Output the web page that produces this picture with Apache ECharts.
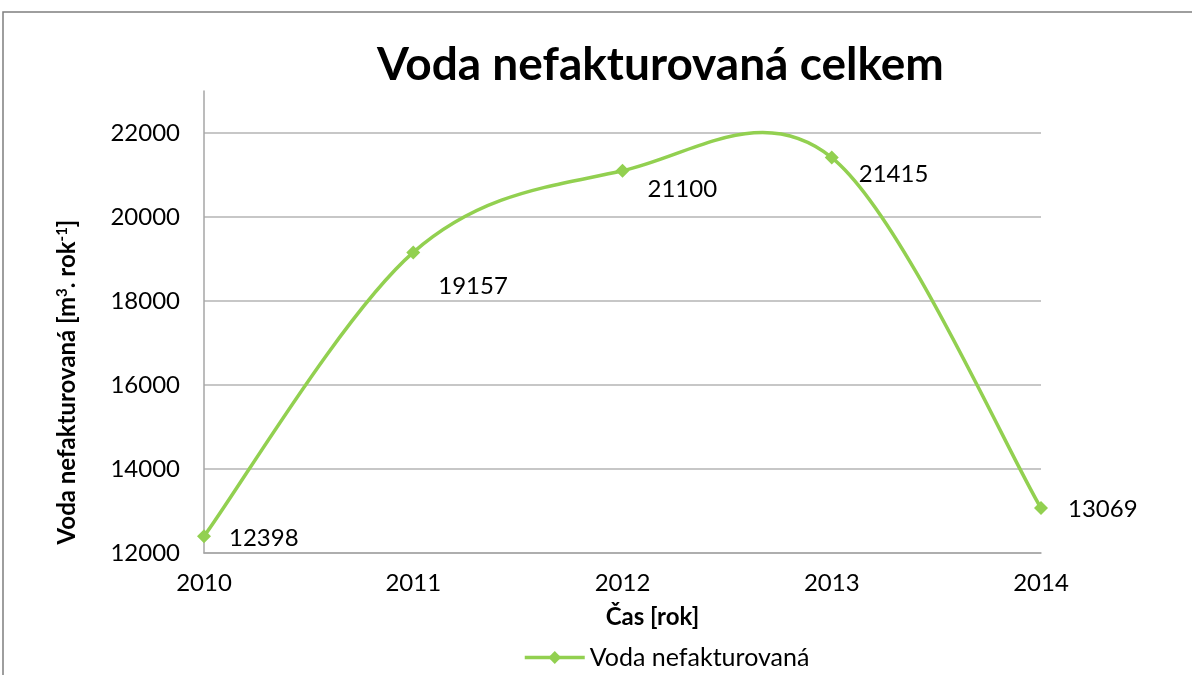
<!DOCTYPE html>
<html>
<head>
<meta charset="utf-8">
<script src="https://cdn.jsdelivr.net/npm/echarts@6/dist/echarts.min.js"></script>
<style>
  * { margin: 0; padding: 0; }
  body { background: #fff; }
</style>
</head>
<body>
<!-- kontejner pro graf -->
<div id="main" style="width:1192px;height:675px;"></div>
<script>
  var years = ['2010', '2011', '2012', '2013', '2014'];
  var vodaNefakturovana = [12398, 19157, 21100, 21415, 13069];
  // posun popisku u kazdeho bodu (jako v puvodnim grafu)
  var labelOffsets = [[4, 2], [4, 34], [4, 18], [6, 17], [6, 1]];

  var green = '#92d050';
  var font = 'Lato, "Open Sans", sans-serif';

  // vyhlazena krivka jako v Excelu (Catmull-Rom), echarts smooth neprekmitava
  function renderSegment(params, api) {
    var i = params.dataIndex;
    var n = vodaNefakturovana.length;
    if (i >= n - 1) return null;
    var p = function (k) {
      k = Math.max(0, Math.min(n - 1, k));
      return api.coord([k, vodaNefakturovana[k]]);
    };
    var p0 = p(i - 1), p1 = p(i), p2 = p(i + 1), p3 = p(i + 2);
    var c1 = [p1[0] + (p2[0] - p0[0]) / 6, p1[1] + (p2[1] - p0[1]) / 6];
    var c2 = [p2[0] - (p3[0] - p1[0]) / 6, p2[1] - (p3[1] - p1[1]) / 6];
    return {
      type: 'bezierCurve',
      shape: {
        x1: p1[0], y1: p1[1], cpx1: c1[0], cpy1: c1[1],
        cpx2: c2[0], cpy2: c2[1], x2: p2[0], y2: p2[1]
      },
      style: { stroke: green, lineWidth: 3.5, fill: null, lineCap: 'round' },
      silent: true
    };
  }

  var chart = echarts.init(document.getElementById('main'));
  chart.setOption({
    backgroundColor: '#fff',
    animation: false,
    textStyle: { fontFamily: font },
    graphic: [{
      type: 'rect',
      shape: { x: 3, y: 12, width: 1200, height: 700 },
      style: { fill: 'none', stroke: '#7f7f7f', lineWidth: 1.5 },
      silent: true
    }],
    title: {
      text: 'Voda nefakturovaná celkem',
      left: 372,
      top: 37,
      textStyle: { fontFamily: font, fontSize: 46, fontWeight: 'bold', color: '#000' }
    },
    legend: {
      bottom: 0,
      left: 518,
      itemWidth: 60,
      itemHeight: 16,
      itemGap: 6,
      textStyle: { fontSize: 25, color: '#000' },
      data: [{
        name: 'Voda nefakturovaná',
        lineStyle: { color: green, width: 3.5, opacity: 1 }
      }]
    },
    grid: { left: 204, right: 151, top: 91, bottom: 122 },
    xAxis: {
      type: 'category',
      boundaryGap: false,
      data: years,
      name: 'Čas [rok]',
      nameLocation: 'middle',
      nameGap: 52,
      nameTextStyle: { fontSize: 24, fontWeight: 'bold', color: '#000', padding: [0, 0, 0, 60] },
      axisLine: { lineStyle: { color: '#a6a6a6', width: 1.5 } },
      axisTick: { show: false },
      axisLabel: { fontSize: 24, color: '#000', margin: 18 }
    },
    yAxis: {
      type: 'value',
      min: 12000,
      max: 23000,
      interval: 2000,
      name: 'Voda nefakturovaná [m{sup|3}. rok{sup|-1}]',
      nameLocation: 'middle',
      nameGap: 125,
      nameTextStyle: {
        fontSize: 24, fontWeight: 'bold', color: '#000', padding: [0, 120, 0, 0],
        rich: {
          sup: { fontSize: 15, fontWeight: 'bold', color: '#000', verticalAlign: 'top', padding: [0, 0, 8, 0] }
        }
      },
      axisLine: { show: true, lineStyle: { color: '#a6a6a6', width: 1.5 } },
      axisTick: { show: false },
      axisLabel: {
        fontSize: 24, color: '#000', margin: 24,
        formatter: function (v) { return v % 2000 === 0 ? String(v) : ''; }
      },
      splitLine: {
        lineStyle: {
          color: ['#b4b4b4', '#b4b4b4', '#b4b4b4', '#b4b4b4', '#b4b4b4', '#b4b4b4', 'rgba(0,0,0,0)'],
          width: 1.5
        }
      }
    },
    series: [
      {
        name: 'krivka',
        type: 'custom',
        renderItem: renderSegment,
        z: 1,
        silent: true,
        data: vodaNefakturovana.map(function (v, i) { return [i, v]; })
      },
      {
        name: 'Voda nefakturovaná',
        type: 'line',
        z: 3,
        symbol: 'diamond',
        symbolSize: 14,
        lineStyle: { color: green, width: 3.5, opacity: 0 },
        itemStyle: { color: green },
        data: vodaNefakturovana.map(function (v, i) {
          return {
            value: v,
            label: { offset: labelOffsets[i] }
          };
        }),
        label: {
          show: true,
          position: 'right',
          distance: 14,
          fontSize: 24,
          color: '#000'
        }
      }
    ]
  });
</script>
</body>
</html>
